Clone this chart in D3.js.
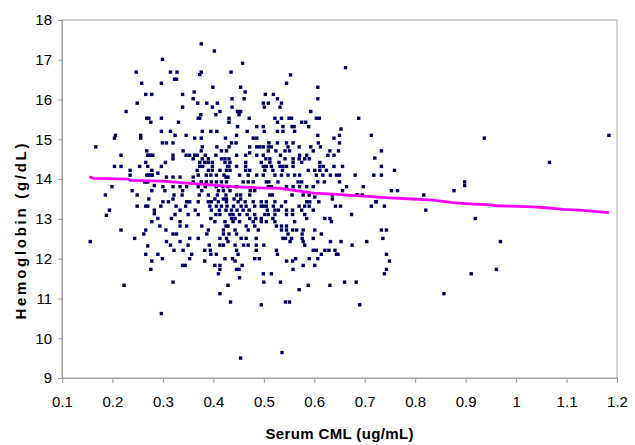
<!DOCTYPE html>
<html><head><meta charset="utf-8">
<script src="https://cdn.jsdelivr.net/npm/d3@7"></script>
<style>html,body{margin:0;padding:0;background:#fff}</style>
</head><body><svg id="c" width="635" height="445"></svg>
<script>
const xTicks = [0.1,0.2,0.3,0.4,0.5,0.6,0.7,0.8,0.9,1.0,1.1,1.2];
const xTickLabels = ["0.1","0.2","0.3","0.4","0.5","0.6","0.7","0.8","0.9","1","1.1","1.2"];
const yTicks = [9,10,11,12,13,14,15,16,17,18];
const xTitle = "Serum CML (ug/mL)";
const yTitle = "Hemoglobin (g/dL)";

// Hemoglobin level (g/dL) with the serum CML values (ug/mL) observed at that level
const samples = [
[17.40,[0.376]],
[17.22,[0.402]],
[17.01,[0.299]],
[16.91,[0.458]],
[16.80,[0.662]],
[16.69,[0.247,0.315,0.328,0.376,0.435]],
[16.63,[0.373]],
[16.62,[0.553]],
[16.51,[0.323,0.327]],
[16.41,[0.258,0.297,0.545]],
[16.31,[0.399,0.454,0.607]],
[16.19,[0.362,0.463]],
[16.13,[0.266,0.278,0.339,0.503,0.519]],
[16.02,[0.360,0.437,0.461,0.527,0.607]],
[15.91,[0.249,0.369,0.387,0.408,0.499,0.509,0.535]],
[15.81,[0.339,0.398,0.437,0.501,0.532]],
[15.70,[0.227,0.413,0.448,0.454,0.593]],
[15.62,[0.375,0.405,0.451]],
[15.53,[0.268,0.272,0.297,0.370,0.373,0.431,0.471,0.522,0.535,0.550,0.555,0.604,0.610,0.688]],
[15.43,[0.276,0.331,0.431,0.527,0.575,0.583]],
[15.32,[0.448,0.486,0.499,0.538,0.556,0.560,0.589]],
[15.26,[0.653]],
[15.20,[0.297,0.315,0.378,0.395,0.407,0.467,0.501,0.527,0.538,0.561]],
[15.10,[0.206,0.256,0.324,0.346,0.446,0.607,0.650,0.713,1.184]],
[15.03,[0.204,0.256,0.363,0.376,0.424,0.479,0.486,0.639,0.937]],
[14.91,[0.299,0.307,0.320,0.436,0.445,0.510,0.527,0.545,0.558,0.608,0.650]],
[14.81,[0.167,0.378,0.407,0.431,0.472,0.486,0.492,0.499,0.509,0.515,0.548,0.570,0.593,0.612]],
[14.71,[0.268,0.340,0.376,0.416,0.426,0.509,0.524,0.542,0.551,0.598,0.631,0.648,0.733]],
[14.66,[0.472]],
[14.60,[0.217,0.270,0.272,0.276,0.280,0.320,0.346,0.353,0.363,0.368,0.384,0.405,0.446,0.464,0.486,0.499,0.533,0.571,0.585,0.627,0.639]],
[14.53,[0.720]],
[14.51,[0.320,0.360,0.378,0.390,0.416,0.423,0.431,0.504,0.512,0.542,0.558,0.570,0.581,0.590]],
[14.42,[0.266,0.305,0.373,0.383,0.390,0.398,0.423,0.433,0.464,0.495,0.512,0.530,0.558,0.575,0.611,1.066]],
[14.32,[0.204,0.217,0.254,0.270,0.297,0.373,0.379,0.398,0.428,0.431,0.446,0.464,0.499,0.505,0.515,0.532,0.538,0.545,0.558,0.611,0.618,0.639,0.656,0.733]],
[14.22,[0.235,0.278,0.368,0.390,0.398,0.413,0.426,0.433,0.464,0.472,0.502,0.518,0.537,0.588,0.601,0.611,0.624,0.759]],
[14.15,[0.290]],
[14.10,[0.235,0.268,0.272,0.276,0.279,0.370,0.386,0.395,0.406,0.421,0.452,0.469,0.486,0.499,0.522,0.535,0.548,0.561,0.571,0.604,0.617,0.632,0.644,0.650,0.681,0.718,0.733]],
[14.05,[0.307,0.320,0.334,0.360,0.425,0.429]],
[13.93,[0.264,0.267,0.270,0.360,0.376,0.386,0.396,0.406,0.416,0.426,0.459,0.469,0.479,0.505,0.510,0.528,0.568,0.575,0.607,0.620,0.650,0.898]],
[13.84,[0.283,0.898]],
[13.81,[0.199,0.300,0.320,0.334,0.347,0.370,0.384,0.406,0.419,0.429,0.446,0.509,0.515,0.545,0.558,0.571,0.585,0.598,0.664,0.697]],
[13.71,[0.239,0.278,0.304,0.339,0.377,0.410,0.420,0.433,0.473,0.482,0.656,0.753,0.765,0.877]],
[13.60,[0.186,0.249,0.322,0.338,0.372,0.390,0.408,0.425,0.446,0.454,0.472,0.512,0.517,0.556,0.578,0.590,0.636,0.684,0.686,0.695,0.817]],
[13.55,[0.601]],
[13.50,[0.272,0.320,0.403,0.420,0.426,0.441,0.454,0.636]],
[13.43,[0.300,0.311,0.347,0.353,0.370,0.390,0.396,0.410,0.426,0.449,0.463,0.479,0.495,0.505,0.522,0.543,0.585,0.591,0.609,0.722,0.723]],
[13.32,[0.249,0.266,0.270,0.296,0.326,0.345,0.393,0.406,0.416,0.427,0.440,0.455,0.465,0.482,0.495,0.499,0.505,0.519,0.535,0.570,0.581,0.590,0.642,0.652,0.713,0.739]],
[13.22,[0.194,0.283,0.334,0.364,0.396,0.412,0.425,0.436,0.447,0.459,0.471,0.507,0.522,0.529,0.545,0.557,0.575,0.598,0.821]],
[13.13,[0.283]],
[13.11,[0.324,0.350,0.370,0.405,0.413,0.433,0.439,0.452,0.467,0.482,0.502,0.509,0.522,0.545,0.557,0.581,0.674]],
[13.09,[0.188]],
[13.01,[0.290,0.317,0.395,0.436,0.443,0.472,0.484,0.495,0.518,0.585,0.621,0.631,0.919]],
[12.93,[0.278,0.334,0.403,0.423,0.439,0.452,0.479,0.495,0.505,0.522,0.561,0.634]],
[12.82,[0.294,0.334,0.347,0.377,0.425,0.429,0.465,0.482,0.525,0.535,0.545]],
[12.72,[0.217,0.266,0.306,0.390,0.420,0.443,0.469,0.489,0.535,0.545,0.557,0.565,0.578,0.601,0.733,0.743]],
[12.62,[0.262,0.320,0.327,0.387,0.420,0.431,0.446,0.548,0.576,0.614]],
[12.51,[0.244,0.353,0.370,0.413,0.426,0.455,0.465,0.485,0.538,0.543,0.555,0.576,0.598,0.736]],
[12.43,[0.156,0.307,0.334,0.429,0.552,0.578,0.632,0.653,0.704,0.969]],
[12.34,[0.315,0.350,0.392,0.413,0.420,0.443,0.460,0.469,0.485,0.500,0.581,0.675]],
[12.32,[0.270]],
[12.21,[0.322,0.340,0.383,0.394,0.446,0.485,0.525,0.598,0.604,0.621,0.629,0.641]],
[12.11,[0.266,0.290,0.357,0.395,0.406,0.449,0.527,0.614,0.644,0.647,0.743]],
[12.00,[0.299,0.353,0.423,0.438,0.482,0.491,0.563,0.590,0.607]],
[11.94,[0.278,0.383,0.443,0.545,0.557,0.749]],
[11.83,[0.339,0.344,0.403,0.413,0.457,0.578,0.601]],
[11.73,[0.276,0.413,0.446,0.451,0.558,0.743,0.961]],
[11.62,[0.410,0.499,0.515,0.739,0.911]],
[11.52,[0.452]],
[11.41,[0.320,0.500,0.533,0.660,0.683]],
[11.33,[0.223,0.429,0.588,0.631]],
[11.22,[0.570]],
[11.12,[0.413,0.857]],
[10.91,[0.434,0.543,0.551]],
[10.84,[0.495,0.690]],
[10.62,[0.297]],
[9.64,[0.536]],
[9.50,[0.454]]
];

// Magenta trend line (moving average)
const trendX = [0.154,0.162,0.231,0.235,0.300,0.334,0.400,0.439,0.492,0.532,0.598,0.637,0.697,0.749,0.796,0.835,0.875,0.908,0.951,0.960,0.987,1.033,1.060,1.093,1.126,1.184];
const trendY = [14.06,14.02,14.00,13.97,13.95,13.91,13.85,13.81,13.78,13.77,13.65,13.62,13.57,13.53,13.50,13.47,13.41,13.38,13.35,13.33,13.32,13.30,13.28,13.24,13.22,13.16];

const svg = d3.select("#c");
const W = 635, H = 445;
const L = 62, R = 617, T = 20, B = 378;
const x = d3.scaleLinear().domain([0.1, 1.2]).range([L, R]);
const y = d3.scaleLinear().domain([9, 18]).range([B, T]);
const font = "'Liberation Sans', Arial, sans-serif";

svg.append("rect").attr("width", W).attr("height", H).attr("fill", "#fff");

// plot frame
svg.append("rect").attr("x", L).attr("y", T).attr("width", R - L).attr("height", B - T)
  .attr("fill", "none").attr("stroke", "#a8a8a8").attr("stroke-width", 1);

// axes
const gx = svg.append("g").attr("transform", `translate(0,${B})`)
  .call(d3.axisBottom(x).tickValues(xTicks).tickSize(5).tickPadding(13.5)
    .tickFormat((d, i) => xTickLabels[i]));
const gy = svg.append("g").attr("transform", `translate(${L},0)`)
  .call(d3.axisLeft(y).tickValues(yTicks).tickSize(4).tickPadding(6));
[gx, gy].forEach(g => {
  g.select(".domain").attr("stroke", "#a0a0a0");
  g.selectAll(".tick line").attr("stroke", "#a0a0a0");
  g.selectAll("text").attr("fill", "#000").style("font-family", font).style("font-size", "15px");
});

// points
const pts = samples.flatMap(([hb, xs]) => xs.map(c => [c, hb]));
const s = 3.4;
svg.append("g").selectAll("rect").data(pts).join("rect")
  .attr("x", d => x(d[0]) - s / 2).attr("y", d => y(d[1]) - s / 2)
  .attr("width", s).attr("height", s).attr("fill", "#000066");

// trend line
const line = d3.line().x(d => x(d[0])).y(d => y(d[1]));
svg.append("path").datum(trendX.map((v, i) => [v, trendY[i]]))
  .attr("d", line).attr("fill", "none").attr("stroke", "#ff00ff")
  .attr("stroke-width", 2.8).attr("stroke-linejoin", "round");

// titles
svg.append("text").attr("x", (L + R) / 2).attr("y", 438.5).attr("text-anchor", "middle")
  .style("font-family", font).style("font-size", "15px").style("font-weight", "bold")
  .attr("textLength", 148).attr("lengthAdjust", "spacing").text(xTitle);
svg.append("text").attr("transform", "translate(25.5,231.5) rotate(-90)").attr("text-anchor", "middle")
  .style("font-family", font).style("font-size", "15px").style("font-weight", "bold")
  .attr("textLength", 176).attr("lengthAdjust", "spacing").text(yTitle);
</script></body></html>
